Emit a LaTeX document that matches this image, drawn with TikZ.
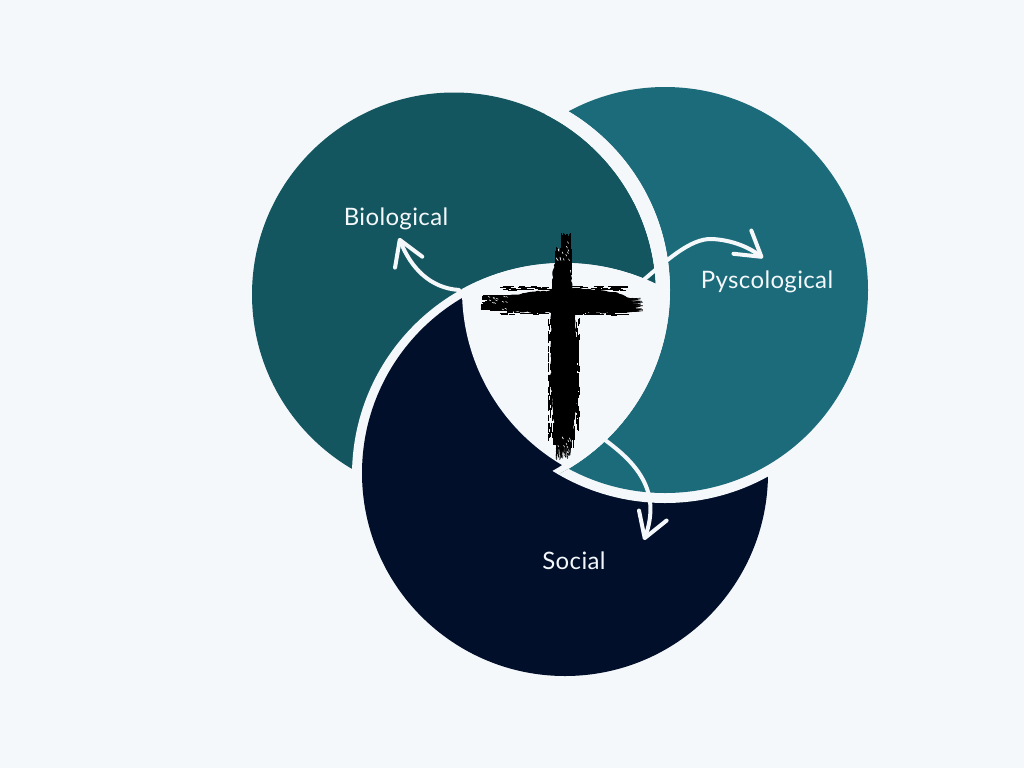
\documentclass[tikz,border=0pt]{standalone}
\usepackage{fontspec}
\setmainfont[LetterSpace=1.5]{Lato}
\usetikzlibrary{arrows.meta,decorations.pathmorphing}
\definecolor{paper}{HTML}{F4F8FB}
\definecolor{biocol}{HTML}{14565F}
\definecolor{psycol}{HTML}{1C6B7A}
\definecolor{soccol}{HTML}{020F2B}
\tikzset{
  venntext/.style={text=paper,font=\fontsize{18}{20}\selectfont,inner sep=0pt},
  bendarrow/.style={draw=paper,line width=3pt,line cap=round,
    -{Straight Barb[length=18pt,width=22pt,round]}},
  brush/.style={fill=black,decorate,decoration={random steps,segment length=2pt,amplitude=0.5pt}},
  fray/.style={draw=black,line width=0.5pt},
  speck/.style={draw=paper,line width=0.4pt}
}
\begin{document}
\begin{tikzpicture}[x=0.75pt,y=-0.75pt]
\useasboundingbox (0,0) rectangle (1024,768);
\fill[paper] (0,0) rectangle (1024,768);
\coordinate (bio) at (454,294.5);
\coordinate (biorim) at (462,290);
\coordinate (psy) at (665,290);
\coordinate (soc) at (565,473);
\coordinate (socrim) at (564,475);
\def\discr{203}
\def\biodisc{202}
\def\ringr{213}
\def\biorimr{208}
\def\socring{212}
% biological first, social on top of it
\fill[biocol] (bio) circle (\biodisc);
\fill[paper] (socrim) circle (\socring);
\fill[soccol] (soc) circle (\discr);
% psychological, only outside the rim of biological
\begin{scope}[even odd rule]
  \clip (0,0) rectangle (1024,768) (biorim) circle (\biorimr);
  \fill[paper,nonzero rule] (psy) circle (\ringr);
  \fill[psycol,nonzero rule] (psy) circle (\discr);
\end{scope}
% rim of biological
\begin{scope}
  \clip (psy) circle (\ringr);
  \clip (biorim) circle (\biorimr);
  \fill[paper,even odd rule] (0,0) rectangle (1024,768) (bio) circle (\biodisc);
\end{scope}
% middle
\begin{scope}
  \clip (biorim) circle (\biorimr);
  \clip (socrim) circle (\socring);
  \fill[paper] (psy) circle (\discr);
\end{scope}
% cross
\pgfmathsetseed{12}
\path[brush] (566,258) -- (570,262) -- (573,300) -- (577,340) -- (577,400) -- (573,432)
  -- (566,445) -- (558,445) -- (554,425) -- (551,385) -- (551,320) -- (553,270) -- (556,258) -- cycle;
\path[brush] (494,298) -- (530,292) -- (580,288) -- (615,292) -- (630,298) -- (636,309)
  -- (610,313) -- (570,313) -- (520,312) -- (494,309) -- cycle;
\foreach \i in {1,...,80}{
  % ends of the bar
  \pgfmathsetmacro{\sx}{480+16*rnd}
  \pgfmathsetmacro{\sy}{295+15*rnd}
  \draw[fray] (\sx,\sy) -- ++(18,0);
  \pgfmathsetmacro{\sx}{628+15*rnd}
  \pgfmathsetmacro{\sy}{298+14*rnd}
  \draw[fray] (\sx,\sy) -- ++(-16,1);
  % ends of the post
  \pgfmathsetmacro{\sx}{555+16*rnd}
  \pgfmathsetmacro{\sy}{246+14*rnd}
  \draw[fray] (\sx,\sy) -- ++(0,16);
  \pgfmathsetmacro{\sx}{553+21*rnd}
  \pgfmathsetmacro{\sy}{436+12*rnd}
  \draw[fray] (\sx,\sy) -- ++(0,-14);
  \pgfmathsetmacro{\sx}{556+14*rnd}
  \pgfmathsetmacro{\sy}{445+15*rnd}
  \draw[fray] (\sx,\sy) -- ++(1,-14);
  \pgfmathsetmacro{\sx}{561+10*rnd}
  \pgfmathsetmacro{\sy}{233+14*rnd}
  \draw[fray] (\sx,\sy) -- ++(0,14);
  % rough edges
  \pgfmathsetmacro{\sx}{500+125*rnd}
  \pgfmathsetmacro{\sy}{286+4*rnd}
  \draw[fray] (\sx,\sy) -- ++(6,0);
  \pgfmathsetmacro{\sx}{495+130*rnd}
  \pgfmathsetmacro{\sy}{311+4*rnd}
  \draw[fray] (\sx,\sy) -- ++(6,0);
  \pgfmathsetmacro{\sx}{548+4*rnd}
  \pgfmathsetmacro{\sy}{315+120*rnd}
  \draw[fray] (\sx,\sy) -- ++(0,6);
  \pgfmathsetmacro{\sx}{576+3*rnd}
  \pgfmathsetmacro{\sy}{315+110*rnd}
  \draw[fray] (\sx,\sy) -- ++(0,6);
}
\foreach \i in {1,...,14}{
  \pgfmathsetmacro{\sx}{556+14*rnd}
  \pgfmathsetmacro{\sy}{240+28*rnd}
  \draw[speck] (\sx,\sy) -- ++(1,2);
  \pgfmathsetmacro{\sx}{556+16*rnd}
  \pgfmathsetmacro{\sy}{435+20*rnd}
  \draw[speck] (\sx,\sy) -- ++(1,2);
  \pgfmathsetmacro{\sx}{486+20*rnd}
  \pgfmathsetmacro{\sy}{296+14*rnd}
  \draw[speck] (\sx,\sy) -- ++(2,1);
}
% labels
\node[venntext] (biolabel) at (396,219) {Biological};
\node[venntext] (psylabel) at (767,282) {Pyscological};
\node[venntext] (soclabel) at (574,561) {Social};
% arrows
\coordinate (biostart) at (459,290);
\coordinate (bioend) at (399,238);
\coordinate (psystart) at (640,283);
\coordinate (psyend) at (763,258);
\coordinate (socstart) at (605,440);
\coordinate (socend) at (644,540);
\draw[bendarrow] (biostart) .. controls (430,288) and (411,268) .. (bioend);
\draw[bendarrow] (psystart) .. controls (665,262) and (690,238) .. (712,239)
  .. controls (733,240) and (750,248) .. (psyend);
\draw[bendarrow] (socstart) .. controls (635,462) and (662,490) .. (socend);
\end{tikzpicture}
\end{document}
